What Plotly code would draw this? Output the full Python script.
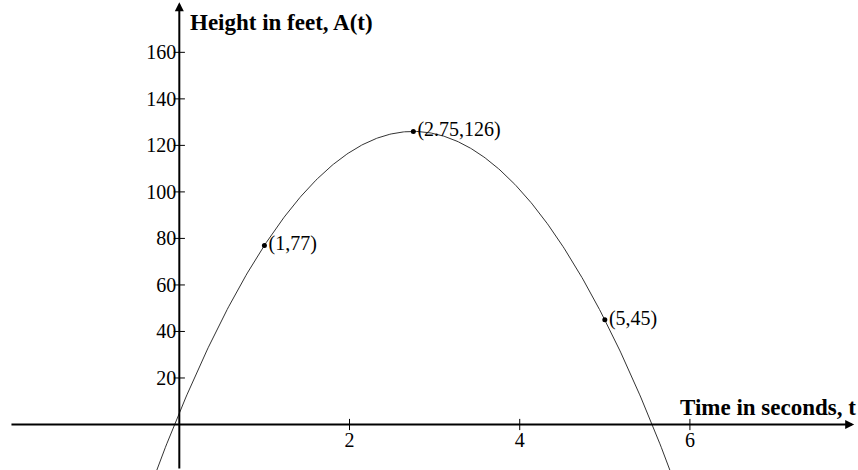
import numpy as np
import plotly.graph_objects as go

# Marked points on the height curve A(t)
point_t = [1, 2.75, 5]
point_h = [77, 126, 45]
point_labels = ["(1,77)", "(2.75,126)", "(5,45)"]

# Vertex of the parabola (maximum height)
vertex_t = 2.75
vertex_h = 126

# Axis ticks
x_ticks = [2, 4, 6]
y_ticks = [20, 40, 60, 80, 100, 120, 140, 160]

x_title = "Time in seconds, t"
y_title = "Height in feet, A(t)"

# Leading coefficient follows from the vertex and the point (1, 77)
a = (point_h[0] - vertex_h) / (point_t[0] - vertex_t) ** 2
t_curve = np.linspace(-0.4, 5.9, 400)
h_curve = a * (t_curve - vertex_t) ** 2 + vertex_h

X_RANGE = [-2.107, 7.975]
Y_RANGE = [-19.56, 182.5]
SERIF = "Liberation Serif, Times New Roman, serif"

fig = go.Figure()

# Parabola
fig.add_trace(go.Scatter(
    x=t_curve, y=h_curve, mode="lines",
    line=dict(color="#333333", width=1),
    hoverinfo="skip", showlegend=False,
))

# Tick crosses on the axes
fig.add_trace(go.Scatter(
    x=x_ticks, y=[0] * len(x_ticks), mode="markers",
    marker=dict(symbol="line-ns-open", size=8, color="black",
                line=dict(color="black", width=1)),
    hoverinfo="skip", showlegend=False,
))
fig.add_trace(go.Scatter(
    x=[0] * len(y_ticks), y=y_ticks, mode="markers",
    marker=dict(symbol="line-ew-open", size=8, color="black",
                line=dict(color="black", width=1)),
    hoverinfo="skip", showlegend=False,
))

# Labelled points
fig.add_trace(go.Scatter(
    x=point_t, y=point_h, mode="markers+text",
    marker=dict(color="black", size=5),
    text=point_labels, textposition="middle right",
    textfont=dict(family=SERIF, size=20, color="black"),
    hoverinfo="skip", showlegend=False,
))

annotations = [
    # x axis with arrowhead
    dict(x=7.93, y=0, ax=-1.99, ay=0, xref="x", yref="y", axref="x", ayref="y",
         showarrow=True, arrowhead=2, arrowsize=0.9, arrowwidth=2, arrowcolor="black",
         standoff=0, startstandoff=0, text=""),
    # y axis with arrowhead
    dict(x=0, y=181.5, ax=0, ay=-19.56, xref="x", yref="y", axref="x", ayref="y",
         showarrow=True, arrowhead=2, arrowsize=0.9, arrowwidth=2, arrowcolor="black",
         standoff=0, startstandoff=0, text=""),
    dict(x=0.1, y=173, xref="x", yref="y", xanchor="left", yanchor="middle",
         text="<b>" + y_title + "</b>", showarrow=False,
         font=dict(family=SERIF, size=23, color="black")),
    dict(x=1.0, y=7.5, xref="paper", yref="y", xanchor="right", yanchor="middle",
         text="<b>" + x_title + "</b>", showarrow=False,
         font=dict(family=SERIF, size=23, color="black")),
]

fig.update_layout(
    width=858, height=470,
    margin=dict(l=0, r=0, t=0, b=0),
    paper_bgcolor="white", plot_bgcolor="white",
    annotations=annotations,
    xaxis=dict(
        range=X_RANGE, showgrid=False, zeroline=False, showline=False,
        tickvals=x_ticks, ticks="", anchor="free", position=45.5 / 470,
        tickfont=dict(family=SERIF, size=20, color="black"),
        ticklabelstandoff=1,
    ),
    yaxis=dict(
        range=Y_RANGE, showgrid=False, zeroline=False, showline=False,
        tickvals=y_ticks, ticks="", anchor="free", position=179.3 / 858,
        tickfont=dict(family=SERIF, size=20, color="black"),
        ticklabelstandoff=3,
    ),
)

fig.write_html("out.html")
